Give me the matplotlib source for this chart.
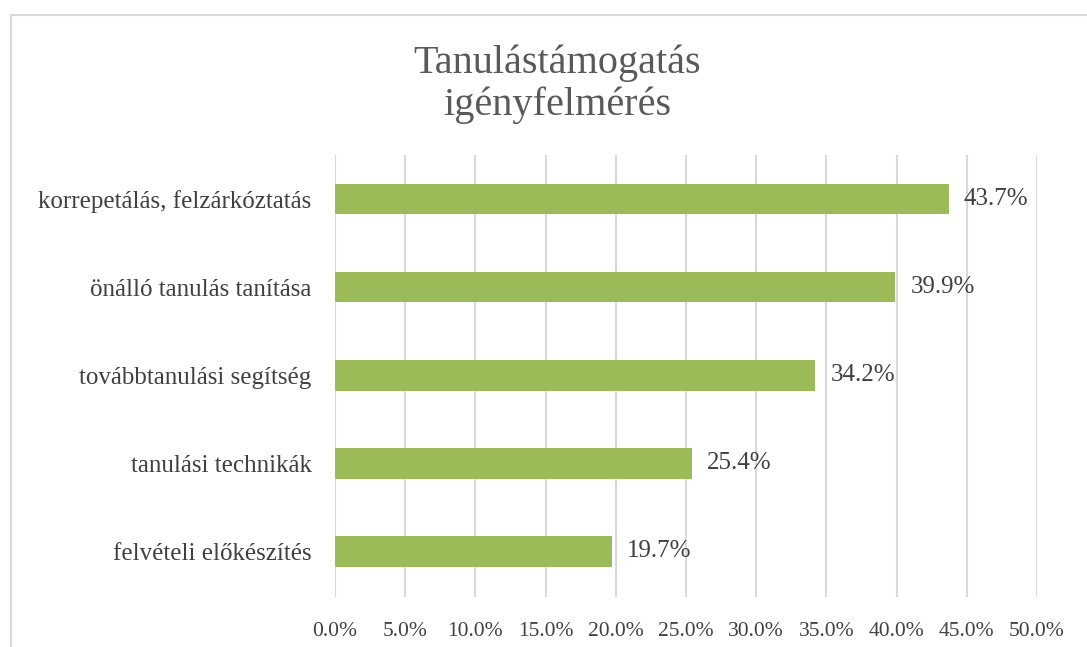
import matplotlib.pyplot as plt
from matplotlib.lines import Line2D
from matplotlib.ticker import FuncFormatter

# datos
categorias = ['felvételi előkészítés', 'tanulási technikák', 'továbbtanulási segítség',
              'önálló tanulás tanítása', 'korrepetálás, felzárkóztatás']
valores = [19.7, 25.4, 34.2, 39.9, 43.7]
ticks_x = [0, 5, 10, 15, 20, 25, 30, 35, 40, 45, 50]
titulo = 'Tanulástámogatás\nigényfelmérés'

plt.rcParams['font.family'] = ['Liberation Serif', 'DejaVu Serif']

fig = plt.figure(figsize=(10.87, 6.47), dpi=100)
ax = fig.add_axes([335 / 1087, 1 - 597 / 647, (1037 - 335) / 1087, (597 - 155) / 647])

ax.barh(range(len(categorias)), valores, height=0.35, color='#9bbb59', zorder=3)
for i, v in enumerate(valores):
    ax.text(v + 1.1, i, f'{v:.1f}%', va='center', ha='left', fontsize=18, color='#404040')

ax.set_xlim(0, 50)
ax.set_ylim(-0.52, 4.5)
ax.set_xticks(ticks_x)
ax.xaxis.set_major_formatter(FuncFormatter(lambda x, p: f'{x:.1f}%'))
ax.set_yticks(range(len(categorias)))
ax.set_yticklabels(categorias)
ax.tick_params(axis='both', length=0, labelcolor='#404040')
ax.tick_params(axis='x', pad=18, labelsize=15.5)
ax.tick_params(axis='y', pad=17, labelsize=18)
ax.grid(axis='x', color='#d9d9d9', linewidth=1.5, zorder=0)
for s in ax.spines.values():
    s.set_visible(False)
ax.axvline(0, color='#d9d9d9', linewidth=1.5, zorder=1)

fig.text(557 / 1087, 1 - 84 / 647, titulo, ha='center', va='center', fontsize=29,
         color='#595959', linespacing=1.15)

# marco
fig.add_artist(Line2D([11 / 1087, 11 / 1087], [0, 1 - 15 / 647], transform=fig.transFigure,
                      color='#d9d9d9', linewidth=1.5))
fig.add_artist(Line2D([11 / 1087, 1], [1 - 15 / 647, 1 - 15 / 647], transform=fig.transFigure,
                      color='#d9d9d9', linewidth=1.5))

fig.savefig('out.png', dpi=100)
